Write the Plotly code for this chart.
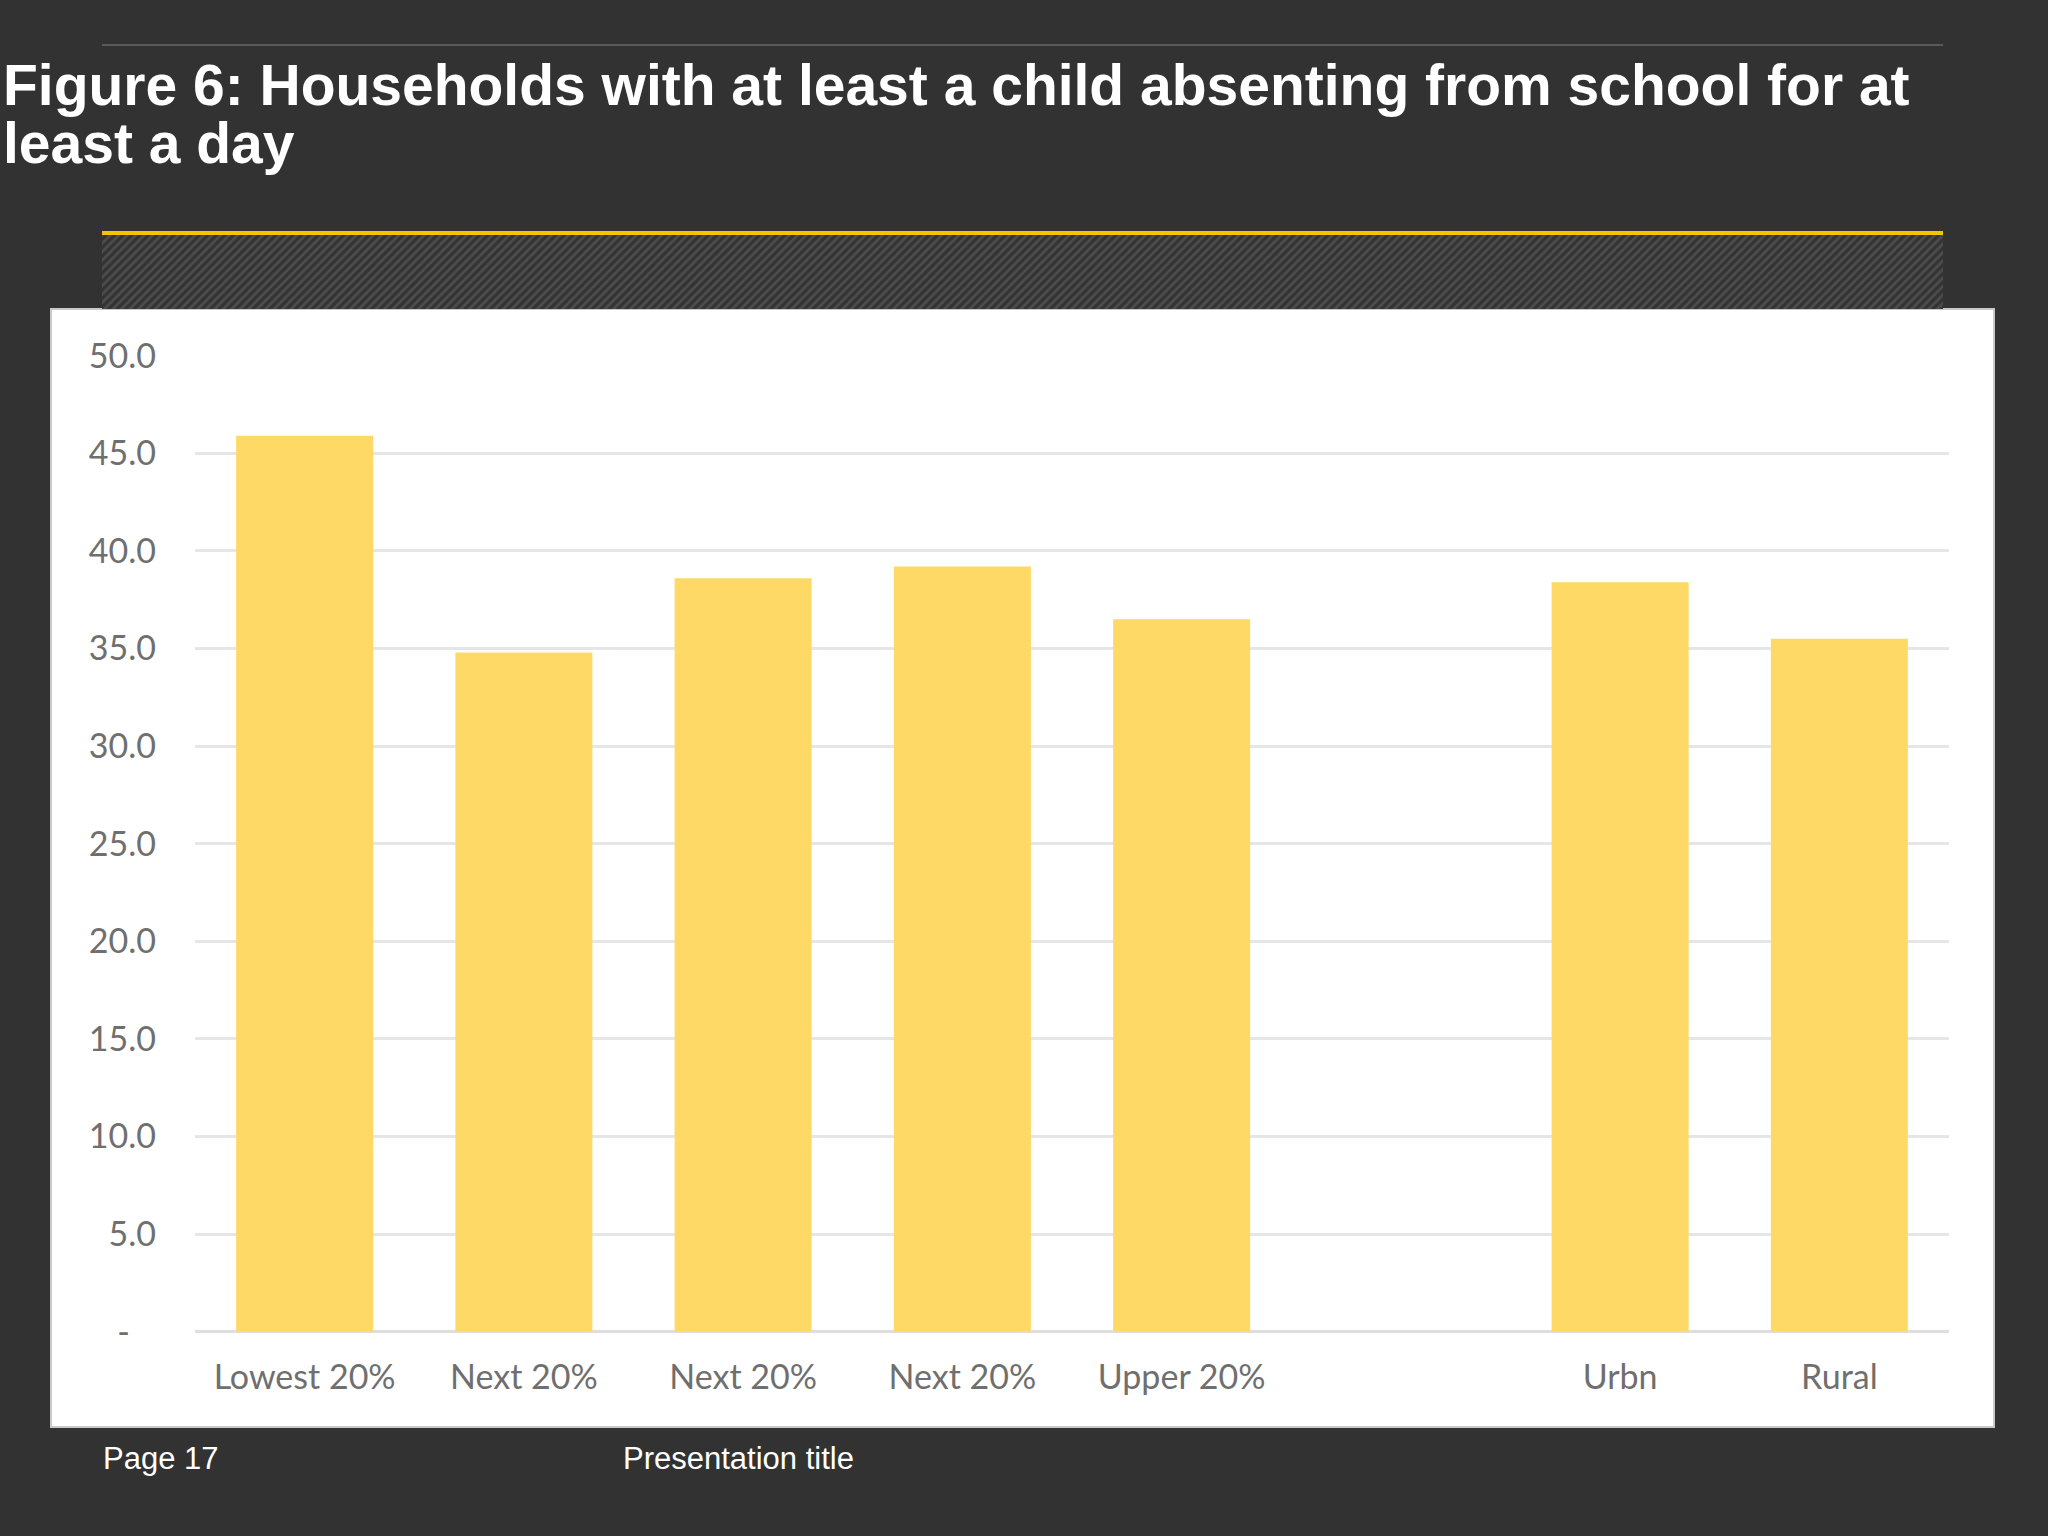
import plotly.graph_objects as go

# ---- data ----
categories = ["Lowest 20%", "Next 20%", "Next 20%", "Next 20%", "Upper 20%", "", "Urbn", "Rural"]
values = [45.9, 34.8, 38.6, 39.2, 36.5, None, 38.4, 35.5]
y_ticks = [0, 5, 10, 15, 20, 25, 30, 35, 40, 45, 50]
y_tick_labels = ["-\u00a0\u00a0\u00a0", "5.0", "10.0", "15.0", "20.0", "25.0", "30.0", "35.0", "40.0", "45.0", "50.0"]
title_line1 = "Figure 6: Households with at least a child absenting from school for at"
title_line2 = "least a day"
footer_page = "Page 17"
footer_title = "Presentation title"

W, H = 2048, 1536
BG = "#323232"
BAR = "#FFD966"


def px_x(p):
    return p / W


def px_y(p):
    return 1 - p / H


positions = list(range(len(categories)))

fig = go.Figure()

fig.add_trace(go.Bar(
    x=positions, y=values,
    marker=dict(color=BAR, line=dict(width=0)),
    hoverinfo="skip", showlegend=False,
    xaxis="x", yaxis="y",
))

# decorative hatched band (one full-width bar on its own axes)
fig.add_trace(go.Bar(
    x=[0.5], y=[1], width=[1],
    marker=dict(color=BG, line=dict(width=0),
                pattern=dict(shape="/", fgcolor="#4d4d4d", bgcolor="#333333",
                             size=6, solidity=0.45)),
    hoverinfo="skip", showlegend=False,
    xaxis="x2", yaxis="y2",
))

tick_font = dict(family="Lato, Noto Sans, sans-serif", size=34, color="#6f6f6f")

fig.update_layout(
    template="none",
    width=W, height=H,
    paper_bgcolor=BG,
    plot_bgcolor="white",
    margin=dict(l=0, r=0, t=0, b=0, pad=0),
    bargap=0.375,
    xaxis=dict(
        domain=[px_x(195), px_x(1949)],
        range=[-0.5, len(categories) - 0.5],
        tickmode="array", tickvals=positions, ticktext=categories,
        showgrid=False, zeroline=False, showline=False, automargin=False,
        ticks="", tickfont=tick_font, ticklabelstandoff=22,
        fixedrange=True,
    ),
    yaxis=dict(
        domain=[px_y(1331.7), px_y(355.7)],
        range=[0, 50],
        tickmode="array", tickvals=y_ticks, ticktext=y_tick_labels,
        showgrid=True, gridcolor="#e6e6e6", gridwidth=3,
        zeroline=True, zerolinecolor="#dedede", zerolinewidth=3,
        showline=False, ticks="", tickfont=tick_font, ticklabelstandoff=38,
        automargin=False, fixedrange=True,
    ),
    xaxis2=dict(domain=[px_x(102), px_x(1943)], range=[0, 1], visible=False,
                anchor="y2", fixedrange=True, automargin=False),
    yaxis2=dict(domain=[px_y(309), px_y(235)], range=[0, 1], visible=False,
                anchor="x2", fixedrange=True, automargin=False),
    shapes=[
        # white chart panel
        dict(type="rect", xref="paper", yref="paper",
             x0=px_x(51), x1=px_x(1994), y0=px_y(1427), y1=px_y(309),
             fillcolor="white", line=dict(color="#c9c9c9", width=2), layer="below"),
        # thin grey top rule
        dict(type="line", xref="paper", yref="paper",
             x0=px_x(102), x1=px_x(1943), y0=px_y(45), y1=px_y(45),
             line=dict(color="#5a5a5a", width=2), layer="above"),
        # yellow rule above the band
        dict(type="line", xref="paper", yref="paper",
             x0=px_x(102), x1=px_x(1943), y0=px_y(233), y1=px_y(233),
             line=dict(color="#F2C500", width=4), layer="above"),
    ],
    annotations=[
        dict(text=f"<b>{title_line1}</b>", xref="paper", yref="paper",
             x=px_x(1), y=px_y(85), xanchor="left", yanchor="middle",
             showarrow=False,
             font=dict(family="Liberation Sans, Arial, sans-serif", size=57, color="white")),
        dict(text=f"<b>{title_line2}</b>", xref="paper", yref="paper",
             x=px_x(1), y=px_y(142.5), xanchor="left", yanchor="middle",
             showarrow=False,
             font=dict(family="Liberation Sans, Arial, sans-serif", size=57, color="white")),
        dict(text=footer_page, xref="paper", yref="paper",
             x=px_x(101), y=px_y(1458), xanchor="left", yanchor="middle",
             showarrow=False,
             font=dict(family="Liberation Sans, Arial, sans-serif", size=31, color="white")),
        dict(text=footer_title, xref="paper", yref="paper",
             x=px_x(621), y=px_y(1458), xanchor="left", yanchor="middle",
             showarrow=False,
             font=dict(family="Liberation Sans, Arial, sans-serif", size=31, color="white")),
    ],
)

fig.write_html(
    "out.html",
    config={"displayModeBar": False},
    post_script="document.body.style.margin='0';document.body.style.background='#323232';",
)
